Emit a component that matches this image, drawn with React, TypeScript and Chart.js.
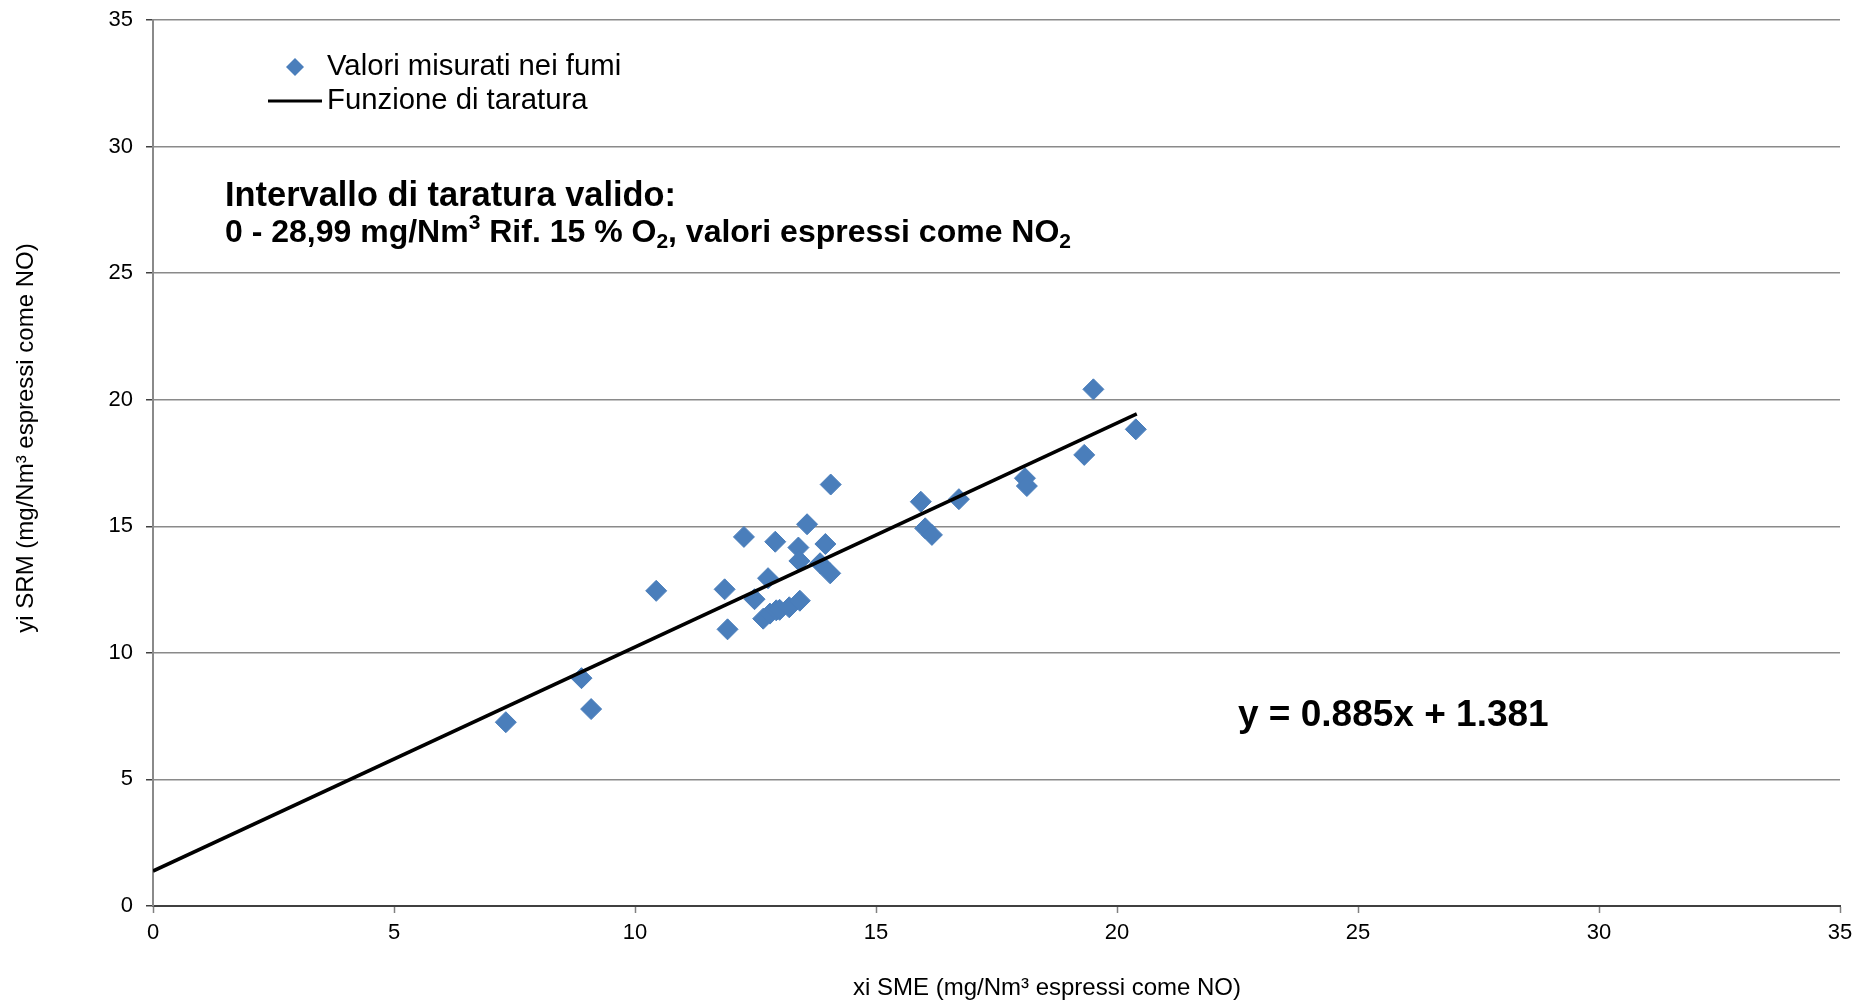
import React, { useEffect, useRef } from "react";
import { Chart, registerables } from "chart.js";

Chart.register(...registerables);

// ---- data ----
const measuredX = [
  7.32, 8.89, 9.09, 10.44, 11.86, 11.92, 12.26, 12.48, 12.66, 12.8, 12.76, 12.91,
  12.93, 13.0, 13.2, 13.42, 13.39, 13.41, 13.57, 13.95, 13.84, 14.05, 14.06,
  15.93, 16.02, 16.16, 16.72, 18.09, 18.13, 19.32, 19.51, 20.39,
];
const measuredY = [
  7.26, 9.0, 7.78, 12.45, 12.51, 10.93, 14.58, 12.12, 11.35, 11.55, 12.95, 14.39,
  11.68, 11.7, 11.8, 12.06, 14.16, 13.63, 15.08, 14.3, 13.54, 13.14, 16.65,
  15.97, 14.92, 14.66, 16.07, 16.9, 16.59, 17.82, 20.41, 18.83,
];
const fitX = [0, 20.41];
const fitY = [1.381, 19.44];
const xTickValues = [0, 5, 10, 15, 20, 25, 30, 35];
const yTickValues = [0, 5, 10, 15, 20, 25, 30, 35];
const seriesNames = ["Valori misurati nei fumi", "Funzione di taratura"];
const xTitle = "xi SME (mg/Nm³ espressi come NO)";
const yTitle = "yi SRM (mg/Nm³ espressi come NO)";
const equationText = "y = 0.885x + 1.381";
const noteLine1 = "Intervallo di taratura valido:";
const noteLine2 = [
  { t: "0 - 28,99 mg/Nm" },
  { t: "3", sup: true },
  { t: " Rif. 15 % O" },
  { t: "2", sub: true },
  { t: ", valori espressi come NO" },
  { t: "2", sub: true },
];

const FONT = "'Liberation Sans', Arial, Helvetica, sans-serif";
const MARKER = "#4A7EBB";

type Seg = { t: string; sup?: boolean; sub?: boolean };

function drawRich(ctx: CanvasRenderingContext2D, segs: Seg[], x: number, y: number, size: number, weight: string) {
  let cx = x;
  for (const s of segs) {
    if (s.sup || s.sub) {
      const small = Math.round(size * 0.65);
      ctx.font = `${weight} ${small}px ${FONT}`;
      const dy = s.sup ? -size * 0.3 : size * 0.28;
      ctx.fillText(s.t, cx, y + dy);
      cx += ctx.measureText(s.t).width;
    } else {
      ctx.font = `${weight} ${size}px ${FONT}`;
      ctx.fillText(s.t, cx, y);
      cx += ctx.measureText(s.t).width;
    }
  }
}

const overlayPlugin = {
  id: "overlay",
  afterDraw(chart: any) {
    const ctx: CanvasRenderingContext2D = chart.ctx;
    ctx.save();
    // legend
    ctx.fillStyle = MARKER;
    ctx.beginPath();
    const dx = 295, dy = 67, r = 9;
    ctx.moveTo(dx - r, dy);
    ctx.lineTo(dx, dy - r);
    ctx.lineTo(dx + r, dy);
    ctx.lineTo(dx, dy + r);
    ctx.closePath();
    ctx.fill();
    ctx.strokeStyle = "#000";
    ctx.lineWidth = 3;
    ctx.beginPath();
    ctx.moveTo(268, 101);
    ctx.lineTo(322, 101);
    ctx.stroke();
    ctx.fillStyle = "#000";
    ctx.textBaseline = "middle";
    ctx.textAlign = "left";
    ctx.font = `29.3px ${FONT}`;
    ctx.fillText(seriesNames[0], 327, 67);
    ctx.fillText(seriesNames[1], 327, 101);

    // note
    ctx.font = `bold 34.4px ${FONT}`;
    ctx.fillText(noteLine1, 225, 197);
    drawRich(ctx, noteLine2, 225, 233, 32, "bold");

    // equation
    ctx.font = `bold 37px ${FONT}`;
    ctx.fillText(equationText, 1238, 716);

    // axis titles
    ctx.font = `24px ${FONT}`;
    ctx.textAlign = "center";
    ctx.fillText(xTitle, 1047, 988);
    ctx.translate(26, 438);
    ctx.rotate(-Math.PI / 2);
    ctx.fillText(yTitle, 0, 0);
    ctx.restore();
  },
};

export default function App() {
  const ref = useRef<HTMLCanvasElement | null>(null);
  useEffect(() => {
    if (!ref.current) return;
    const chart = new Chart(ref.current, {
      type: "scatter",
      data: {
        datasets: [
          {
            type: "line",
            label: seriesNames[1],
            data: fitX.map((x, i) => ({ x, y: fitY[i] })),
            borderColor: "#000",
            borderWidth: 3.5,
            pointRadius: 0,
            fill: false,
            order: 0,
          } as any,
          {
            label: seriesNames[0],
            data: measuredX.map((x, i) => ({ x, y: measuredY[i] })),
            pointStyle: "rectRot",
            pointRadius: 10.5,
            backgroundColor: MARKER,
            borderColor: MARKER,
            borderWidth: 1,
            order: 1,
          },
        ],
      },
      options: {
        animation: false,
        responsive: false,
        layout: { padding: { top: 20, right: 32, left: 0, bottom: 0 } },
        plugins: { legend: { display: false }, tooltip: { enabled: false } },
        scales: {
          x: {
            type: "linear",
            min: 0,
            max: 35,
            afterFit: (s: any) => { s.height = 97; s.paddingLeft = 0; s.paddingRight = 0; },
            afterBuildTicks: (s: any) => { s.ticks = xTickValues.map((v) => ({ value: v })); },
            ticks: { font: { family: FONT, size: 22 }, color: "#000", padding: 7, maxRotation: 0 },
            grid: { drawOnChartArea: false, drawTicks: true, tickLength: 7, tickColor: "#808080", tickWidth: 1.5 },
            border: { display: true, color: "#404040", width: 2 },
          },
          y: {
            type: "linear",
            min: 0,
            max: 35,
            afterFit: (s: any) => { s.width = 153; s.paddingTop = 0; s.paddingBottom = 0; },
            afterBuildTicks: (s: any) => { s.ticks = yTickValues.map((v) => ({ value: v })); },
            ticks: { font: { family: FONT, size: 22 }, color: "#000", padding: 13 },
            grid: { color: "#8a8a8a", lineWidth: 1.5, drawTicks: true, tickLength: 7, tickColor: "#404040", tickWidth: 1.5 },
            border: { display: true, color: "#8a8a8a", width: 2 },
          },
        },
      },
      plugins: [overlayPlugin],
    });
    return () => chart.destroy();
  }, []);
  return (
    <div style={{ position: "absolute", left: 0, top: 0, width: 1872, height: 1003, background: "#fff" }}>
      <canvas ref={ref} width={1872} height={1003} style={{ display: "block" }} />
    </div>
  );
}
